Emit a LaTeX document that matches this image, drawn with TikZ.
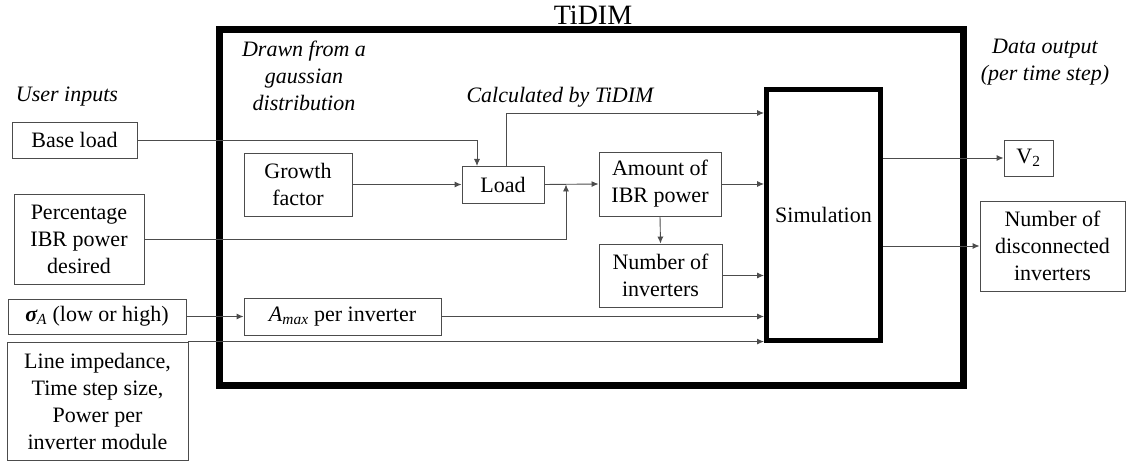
\documentclass[tikz,border=0pt]{standalone}
\usepackage{fontspec}
\setmainfont{Liberation Serif}
\newfontfamily\tnr{Liberation Serif}
\usetikzlibrary{arrows.meta,calc}
\begin{document}
\begin{tikzpicture}[x=1pt,y=-1pt,
  box/.style={draw=black!70, line width=0.9pt, inner sep=0pt, align=center,
    font=\tnr\fontsize{22}{27}\selectfont},
  lbl/.style={inner sep=0pt, align=center, font=\tnr\fontsize{22}{27}\selectfont\itshape},
  arr/.style={draw=black!70, line width=0.9pt, -{Latex[length=7pt,width=6pt]}},
  ln/.style={draw=black!70, line width=0.9pt}]
\useasboundingbox (0,0) rectangle (1126,462);
% outer frame
\draw[line width=7pt, black] (219.5,30) rectangle (963.5,385);
\node[inner sep=0pt, font=\tnr\fontsize{28}{30}\selectfont] (title) at (593,15) {TiDIM};
% labels
\node[lbl] (ui) at (67,97) {User inputs};
\node[lbl] (dr) at (304,76) {Drawn from a\\gaussian\\distribution};
\node[lbl] (calc) at (560,97) {Calculated by TiDIM};
\node[lbl] (dout) at (1045,62) {Data output\\(per time step)};
% input boxes
\node[box, minimum width=125pt, minimum height=36pt] (base) at (74.5,140) {Base load};
\node[box, minimum width=130pt, minimum height=90pt] (pct) at (79,239) {Percentage\\IBR power\\desired};
\node[box, minimum width=178pt, minimum height=35pt] (sig) at (97,316.5) {{\bfseries\itshape σ}\textsubscript{\textit{A}} (low or high)};
\node[box, minimum width=181pt, minimum height=118pt] (line) at (97.5,401) {Line impedance,\\Time step size,\\Power per\\inverter module};
% inner boxes
\node[box, minimum width=108pt, minimum height=63pt] (growth) at (298,184.5) {Growth\\factor};
\node[box, minimum width=82pt, minimum height=37pt] (load) at (503,184.5) {Load};
\node[box, minimum width=197pt, minimum height=37pt] (amax) at (342.5,316.5) {\textit{A}\textsubscript{\textit{max}} per inverter};
\node[box, minimum width=122pt, minimum height=64pt] (amount) at (660,184) {Amount of\\IBR power};
\node[box, minimum width=123pt, minimum height=63pt] (ninv) at (660.5,275.5) {Number of\\inverters};
\node[box, draw=black, line width=5pt, minimum width=114pt, minimum height=251pt] (sim) at (823.5,215) {Simulation};
% outputs
\node[box, minimum width=49pt, minimum height=36pt] (v2) at (1028.5,158) {V\textsubscript{2}};
\node[box, minimum width=145pt, minimum height=90pt] (disc) at (1052.5,246) {Number of\\disconnected\\inverters};
% coordinates
\coordinate (bl) at (477,166);
\coordinate (lt) at (506,166);
\coordinate (y113) at (0,113);
\coordinate (j) at (566,184.5);
% connectors
\draw[arr] (base.east) -| (bl);
\draw[arr] (growth.east) -- (load.west);
\draw[arr] (load.east) -- (amount.west);
\draw[arr] (pct.east) -| (j);
\draw[arr] (lt) |- (sim.west |- y113);
\draw[arr] (amount.east) -- (sim.west |- amount.east);
\draw[arr] (amount.south) -- (ninv.north);
\draw[arr] (ninv.east) -- (sim.west |- ninv.east);
\draw[arr] (sig.east) -- (amax.west);
\draw[arr] (amax.east) -- (sim.west |- amax.east);
\draw[arr] (line.north east) -- (sim.west |- line.north east);
\draw[arr] (sim.east |- v2.west) -- (v2.west);
\draw[arr] (sim.east |- disc.west) -- (disc.west);
\end{tikzpicture}
\end{document}
